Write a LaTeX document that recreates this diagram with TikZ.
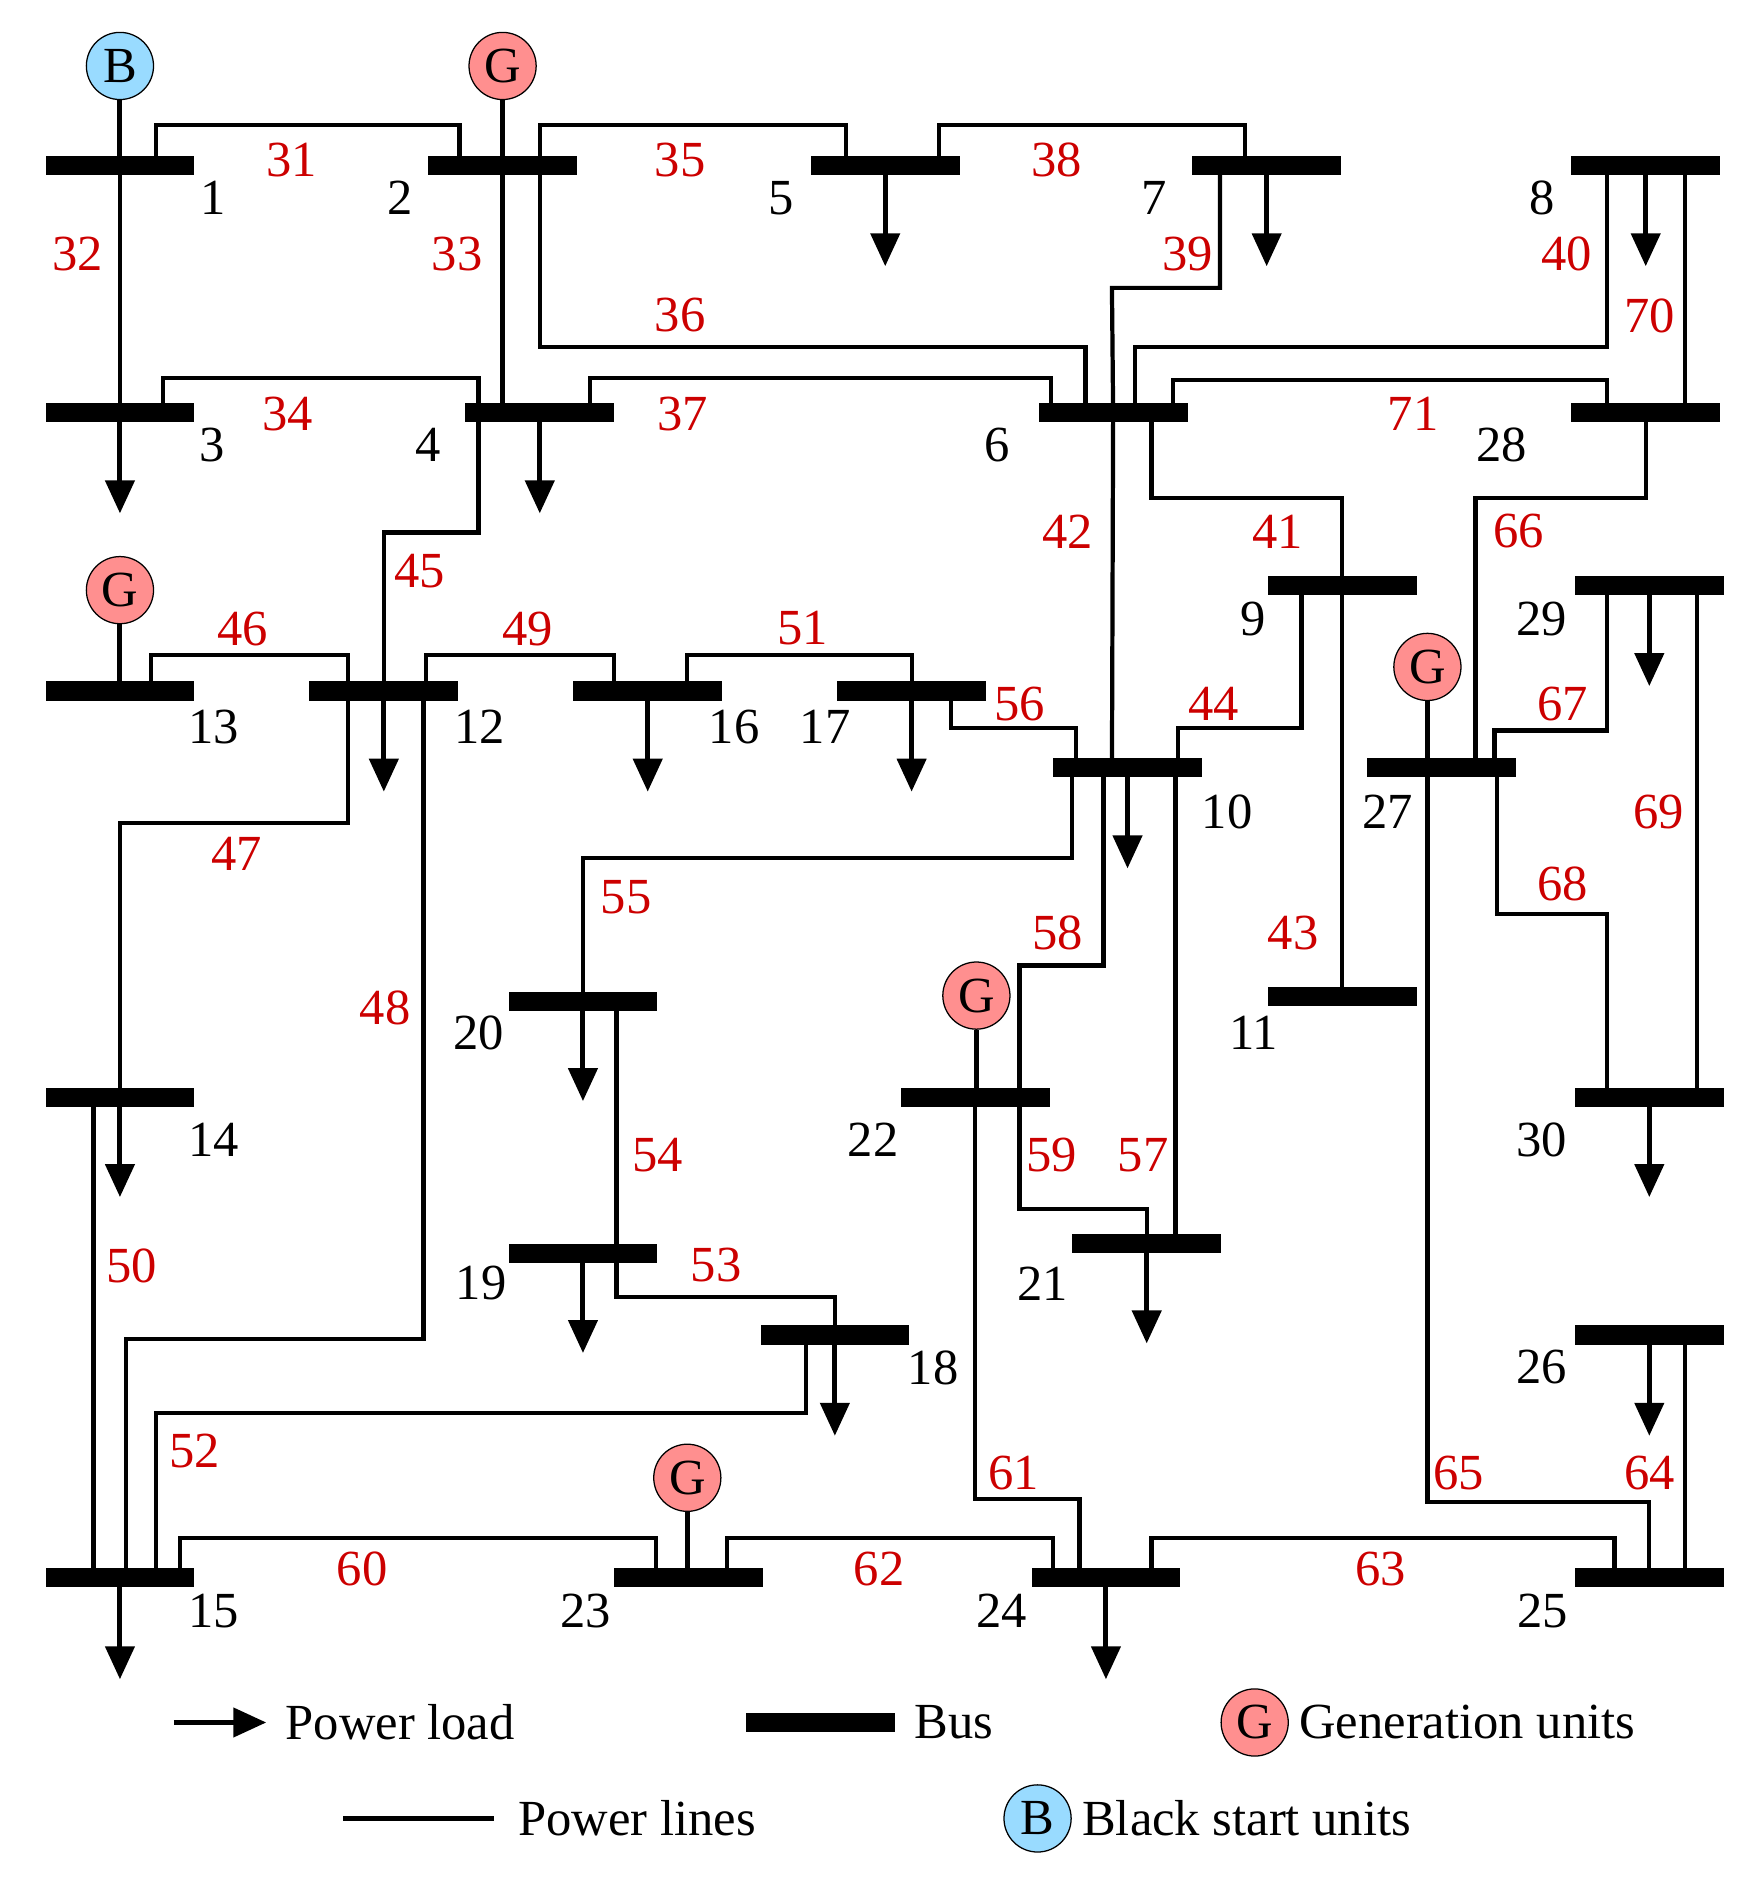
\documentclass[tikz,border=0pt]{standalone}
\usepackage{fontspec}
\setmainfont{Liberation Serif}
\usetikzlibrary{arrows.meta,positioning,calc}
\begin{document}
\begin{tikzpicture}[x=0.02cm, y=-0.02cm,
  font=\fontsize{24}{28}\selectfont,
  bus/.style={fill=black, inner sep=0pt, minimum width=2.48cm, minimum height=0.32cm},
  line/.style={line width=2pt},
  load/.style={line width=2.4pt, -{Triangle[length=0.55cm, width=0.48cm]}},
  gen/.style={circle, draw, line width=0.6pt, fill=red!40!pink!80, minimum size=1.12cm, inner sep=0pt},
  bsu/.style={gen, fill=blue!35!cyan!40},
  num/.style={text=red!80!black},
  lbl/.style={}]
  \useasboundingbox (0,0) rectangle (1468,1574);
  % buses
  \foreach \n/\x/\y in {1/100/138, 2/419/138, 5/738/138, 7/1056/138, 8/1372/138,
      3/100/344, 4/450/344, 6/928/344, 28/1372/344, 9/1119/488, 29/1375/488,
      13/100/576, 12/320/576, 16/540/576, 17/760/576, 10/940/640, 27/1202/640,
      20/486/835, 11/1119/831, 22/813/915, 14/100/915, 30/1375/915,
      19/486/1045, 21/956/1037, 18/696/1113, 26/1375/1113,
      15/100/1315, 23/574/1315, 24/922/1315, 25/1375/1315}
    \coordinate (c\n) at (\x,\y);
  % generators
  \node[bsu] (gb1) at (100,55) {B};
  \node[gen] (g2) at (419,55) {G};
  \node[gen] (g13) at (100,492) {G};
  \node[gen] (g27) at (1190,556) {G};
  \node[gen] (g22) at (814,830) {G};
  \node[gen] (g23) at (573,1232) {G};
  \draw[line width=2.4pt] (gb1) -- (c1) (g2) -- (c2) (g13) -- (c13)
    (g27) -- (1190,640) (g22) -- (814,915) (g23) -- (573,1315);
  % lines
  \draw[line] ($(c1)+(30,0)$) |- (383,104) -- ($(c2)+(-36,0)$);
  \draw[line] (c1) -- (c3);
  \draw[line] (c2) -- (419,344);
  \draw[line] ($(c2)+(31,0)$) |- (705,104) -- ($(c5)+(-33,0)$);
  \draw[line] ($(c2)+(31,0)$) |- (905,289) -- ($(c6)+(-23,0)$);
  \draw[line] ($(c5)+(45,0)$) |- (1038,104) -- ($(c7)+(-18,0)$);
  \draw[line] ($(c7)+(-39,0)$) |- (927,240) -- (c6);
  \draw[line] ($(c3)+(36,0)$) |- (399,315) -- ($(c4)+(-51,0)$);
  \draw[line] ($(c4)+(42,0)$) |- (876,315) -- ($(c6)+(-52,0)$);
  \draw[line] ($(c8)+(-32,0)$) |- (946,289) -- ($(c6)+(18,0)$);
  \draw[line] ($(c8)+(33,0)$) -- ($(c28)+(33,0)$);
  \draw[line] ($(c6)+(50,0)$) |- (1340,317) -- ($(c28)+(-32,0)$);
  \draw[line] (c6) -- ($(c10)+(-13,0)$);
  \draw[line] ($(c6)+(32,0)$) |- (1119,415) -- (c9) -- (c11);
  \draw[line] (c28) |- (1230,415) -- ($(c27)+(28,0)$);
  \draw[line] ($(c10)+(42,0)$) |- (1085,607) -- ($(c9)+(-34,0)$);
  \draw[line] ($(c27)+(44,0)$) |- (1340,609) -- ($(c29)+(-35,0)$);
  \draw[line] ($(c29)+(40,0)$) -- ($(c30)+(40,0)$);
  \draw[line] ($(c27)+(46,0)$) |- (1340,762) -- ($(c30)+(-35,0)$);
  \draw[line] ($(c13)+(26,0)$) |- (290,546) -- ($(c12)+(-30,0)$);
  \draw[line] (c12) |- (399,444) -- ($(c4)+(-51,0)$);
  \draw[line] ($(c12)+(35,0)$) |- (512,546) -- ($(c16)+(-28,0)$);
  \draw[line] ($(c16)+(33,0)$) |- (760,546) -- (c17);
  \draw[line] ($(c17)+(33,0)$) |- (897,607) -- ($(c10)+(-43,0)$);
  \draw[line] ($(c12)+(-30,0)$) |- (100,686) -- (c14);
  \draw[line] ($(c12)+(33,0)$) |- (105,1116) -- ($(c15)+(5,0)$);
  \draw[line] ($(c10)+(-46,0)$) |- (486,715) -- (c20);
  \draw[line] ($(c10)+(-20,0)$) |- (850,805) -- ($(c22)+(37,0)$);
  \draw[line] ($(c22)+(37,0)$) |- (956,1008) -- (c21);
  \draw[line] ($(c10)+(40,0)$) -- ($(c21)+(24,0)$);
  \draw[line] ($(c20)+(28,0)$) -- ($(c19)+(28,0)$);
  \draw[line] ($(c19)+(28,0)$) |- (696,1081) -- (c18);
  \draw[line] ($(c18)+(-24,0)$) |- (130,1178) -- ($(c15)+(30,0)$);
  \draw[line] ($(c14)+(-22,0)$) -- ($(c15)+(-22,0)$);
  \draw[line] ($(c15)+(50,0)$) |- (547,1282) -- ($(c23)+(-27,0)$);
  \draw[line] ($(c23)+(32,0)$) |- (878,1282) -- ($(c24)+(-44,0)$);
  \draw[line] (c22) |- (900,1250) -- ($(c24)+(-22,0)$);
  \draw[line] ($(c24)+(38,0)$) |- (1346,1282) -- ($(c25)+(-29,0)$);
  \draw[line] (1190,640) |- (1375,1252) -- (c25);
  \draw[line] ($(c26)+(30,0)$) -- ($(c25)+(30,0)$);
  % loads
  \foreach \n/\x/\y in {5/738/222, 7/1056/222, 8/1372/222, 3/100/428, 4/450/428,
      12/320/660, 16/540/660, 17/760/660, 10/940/724, 29/1375/572, 20/486/918,
      14/100/998, 30/1375/998, 19/486/1128, 21/956/1120, 18/696/1197,
      26/1375/1197, 15/100/1400, 24/922/1400}
    \draw[load] (c\n) -- (\x,\y);
  % bus bars
  \foreach \n in {1,2,5,7,8,3,4,6,28,9,29,13,12,16,17,10,27,20,11,22,14,30,19,21,18,26,15,23,24,25}
    \node[bus] (b\n) at (c\n) {};
  % bus numbers
  \foreach \t/\x/\y in {1/178/165, 2/334/165, 5/651/165, 7/962/165, 8/1286/165,
      3/177/371, 4/357/371, 6/831/371, 28/1252/371, 9/1045/516, 29/1285/516,
      13/178/606, 12/400/606, 16/612/606, 17/688/606, 10/1023/677, 27/1157/677,
      20/399/861, 11/1045/861, 22/728/950, 14/178/950, 30/1285/950, 19/401/1070,
      21/869/1070, 18/778/1140, 26/1285/1140, 15/178/1343, 23/488/1343,
      24/835/1343, 25/1286/1343}
    \node[lbl] (n\t) at (\x,\y) {\t};
  % line numbers
  \foreach \t/\x/\y in {31/243/133, 32/65/212, 33/381/212, 35/567/133, 36/567/263,
      38/881/133, 39/990/212, 34/240/345, 37/569/345, 40/1306/212, 70/1375/263,
      71/1178/345, 42/890/443, 41/1065/443, 43/1078/778, 66/1266/443, 44/1012/587,
      67/1303/587, 69/1383/677, 68/1303/737, 46/202/524, 45/350/476, 49/440/524,
      51/669/524, 56/850/587, 47/197/712, 48/321/840, 55/522/748, 58/882/778,
      59/877/963, 57/953/963, 54/548/963, 53/597/1055, 52/162/1210, 50/110/1055,
      60/302/1308, 62/733/1308, 61/845/1228, 63/1151/1308, 65/1216/1228,
      64/1375/1228}
    \node[num] (l\t) at (\x,\y) {\t};
  % legend
  \coordinate (la) at (145,1436);
  \coordinate (lb) at (222,1436);
  \draw[load] (la) -- (lb);
  \node[anchor=west] (tload) at (232,1436) {Power load};
  \node[bus] (lbus) at (684,1436) {};
  \node[right=0.2cm of lbus] (tbus) {Bus};
  \node[gen] (lgen) at (1046,1436) {G};
  \node[right=0.05cm of lgen] (tgen) {Generation units};
  \coordinate (lc) at (286,1516);
  \coordinate (ld) at (412,1516);
  \draw[line] (lc) -- (ld);
  \node[anchor=west] (tline) at (426,1516) {Power lines};
  \node[bsu] (lbsu) at (865,1516) {B};
  \node[right=0.05cm of lbsu] (tbsu) {Black start units};
\end{tikzpicture}
\end{document}
